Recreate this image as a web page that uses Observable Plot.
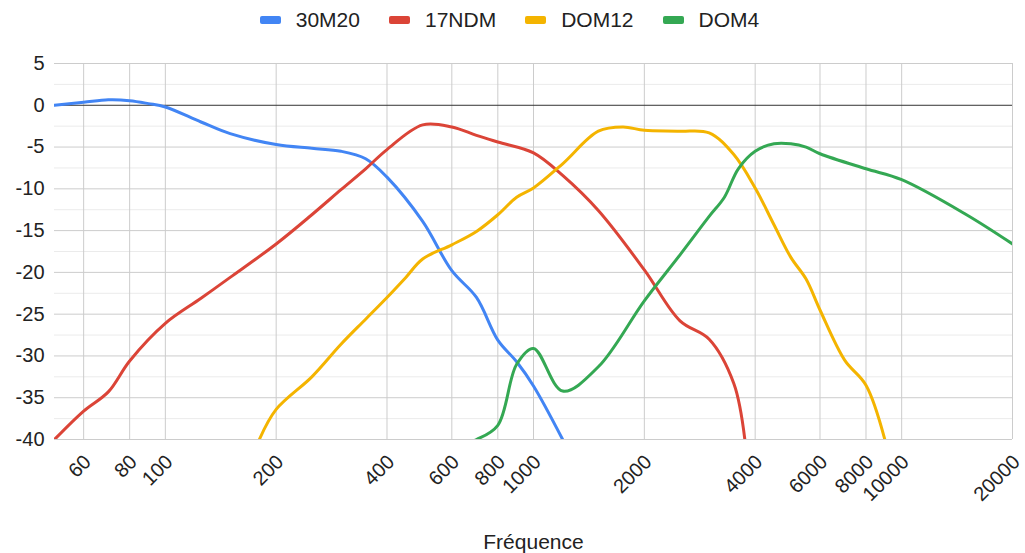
<!DOCTYPE html>
<html>
<head>
<meta charset="utf-8">
<script src="https://cdn.jsdelivr.net/npm/d3@7"></script>
<script src="https://cdn.jsdelivr.net/npm/@observablehq/plot@0.6"></script>
<style>
  html, body { margin: 0; padding: 0; background: #fff; }
  body { font-family: "Liberation Sans", Arial, sans-serif; color: #222; width: 1025px; }
  #legend { height: 40px; display: flex; justify-content: center; align-items: center; font-size: 21px; padding-right: 6px; box-sizing: border-box; }
  .item { display: flex; align-items: center; margin: 0 14.5px; }
  .sw { width: 21px; height: 8px; border-radius: 2px; margin-right: 15px; }
  #chart svg { display: block; }
</style>
</head>
<body>
<div id="legend"></div>
<div id="chart"></div>
<script>
// ---- data ----
const seriesNames = ["30M20", "17NDM", "DOM12", "DOM4"];
const seriesColors = ["#4285F4", "#DB4437", "#F4B400", "#34A853"];

const freq30M20 = [50, 60, 70, 80, 90, 100, 125, 150, 200, 250, 300, 350, 400, 500, 600, 700, 800, 900, 1000, 1200];
const val30M20  = [0, 0.35, 0.65, 0.55, 0.2, -0.2, -2.0, -3.4, -4.7, -5.15, -5.5, -6.4, -8.6, -13.9, -19.8, -23, -28.1, -30.7, -33.6, -40];

const freq17NDM = [50, 60, 70, 80, 100, 125, 150, 200, 250, 300, 350, 400, 500, 600, 700, 800, 1000, 1200, 1500, 2000, 2500, 3000, 3500, 3750];
const val17NDM  = [-40, -36.6, -34.3, -30.6, -26.1, -23.1, -20.6, -16.6, -13.1, -10.1, -7.6, -5.3, -2.35, -2.6, -3.6, -4.4, -5.7, -8.4, -12.6, -19.7, -25.8, -28.0, -33.3, -40];

const freqDOM12 = [180, 200, 250, 300, 350, 400, 450, 500, 600, 700, 800, 900, 1000, 1200, 1500, 1750, 2000, 2500, 3000, 3500, 4000, 4500, 5000, 5500, 6000, 7000, 8000, 9000];
const valDOM12  = [-40, -36.4, -32.5, -28.6, -25.6, -23.0, -20.6, -18.4, -16.7, -15.1, -13.1, -11.0, -9.9, -7.0, -3.1, -2.6, -3.0, -3.1, -3.3, -5.9, -9.9, -14.3, -18.2, -20.8, -24.5, -30.5, -33.5, -40];

const freqDOM4 = [600, 700, 800, 900, 1000, 1200, 1500, 2000, 2500, 3000, 3300, 3600, 4000, 4500, 5000, 5500, 6000, 8000, 10000, 15000, 20000];
const valDOM4  = [-41, -40, -38.3, -31, -29.1, -34.2, -31.3, -23.4, -17.9, -13.3, -11.0, -7.6, -5.5, -4.6, -4.6, -5.0, -5.8, -7.6, -8.9, -13.1, -16.6];

const xTicks = [60, 80, 100, 200, 400, 600, 800, 1000, 2000, 4000, 6000, 8000, 10000, 20000];
const yTicks = [5, 0, -5, -10, -15, -20, -25, -30, -35, -40];
const yMinorTicks = [2.5, -2.5, -7.5, -12.5, -17.5, -22.5, -27.5, -32.5, -37.5];
const xTitle = "Fréquence";

// ---- build table ----
const seriesData = [
  [seriesNames[0], freq30M20, val30M20],
  [seriesNames[1], freq17NDM, val17NDM],
  [seriesNames[2], freqDOM12, valDOM12],
  [seriesNames[3], freqDOM4, valDOM4]
];
const rows = [];
for (const [name, fs, vs] of seriesData) fs.forEach((f, i) => rows.push({series: name, f, v: vs[i]}));

// ---- legend ----
const legend = document.getElementById("legend");
seriesNames.forEach((n, i) => {
  const it = document.createElement("div");
  it.className = "item";
  const sw = document.createElement("div");
  sw.className = "sw";
  sw.style.background = seriesColors[i];
  const tx = document.createElement("span");
  tx.textContent = n;
  it.appendChild(sw); it.appendChild(tx);
  legend.appendChild(it);
});

// ---- chart ----
const chart = Plot.plot({
  width: 1025,
  height: 513,
  marginLeft: 54,
  marginRight: 13,
  marginTop: 23,
  marginBottom: 114,
  style: {fontFamily: "'Liberation Sans', Arial, sans-serif", fontSize: "20px", color: "#222", background: "#fff", overflow: "visible"},
  x: {type: "log", domain: [50, 20000], axis: null},
  y: {domain: [-40, 5], axis: null},
  color: {domain: seriesNames, range: seriesColors},
  marks: [
    Plot.ruleY(yMinorTicks, {stroke: "#ebebeb", strokeWidth: 1}),
    Plot.ruleY(yTicks.filter(d => d !== 0), {stroke: "#cccccc", strokeWidth: 1}),
    Plot.ruleX(xTicks, {stroke: "#cccccc", strokeWidth: 1}),
    Plot.ruleY([0], {stroke: "#333333", strokeWidth: 1}),
    Plot.axisY({ticks: yTicks, tickSize: 0, tickPadding: 10, label: null, tickFormat: d => String(d), fontSize: 20}),
    Plot.text(xTicks, {x: d => d, text: d => String(d), frameAnchor: "bottom", rotate: -45, textAnchor: "end", lineAnchor: "middle", dx: 4, dy: 19, fontSize: 20, fill: "#222"}),
    Plot.line(rows, {x: "f", y: "v", z: "series", stroke: "series", strokeWidth: 3, curve: "catmull-rom", clip: true}),
    Plot.text([xTitle], {frameAnchor: "bottom", text: d => d, dy: 109, fontSize: 21, fill: "#222"})
  ]
});
document.getElementById("chart").appendChild(chart);
</script>
</body>
</html>
